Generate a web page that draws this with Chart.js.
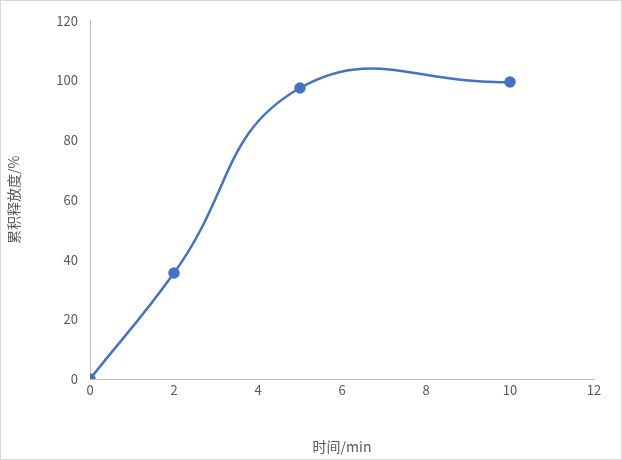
<!DOCTYPE html>
<html>
<head>
<meta charset="utf-8">
<script src="https://cdn.jsdelivr.net/npm/chart.js@4"></script>
<style>
  body { margin: 0; background: #fff; }
  #box { width: 620px; height: 458px; border: 1px solid #d9d9d9; position: relative; }
</style>
</head>
<body>
<div id="box"><canvas id="chart" width="620" height="458"></canvas></div>
<script>
const timeMin = [0, 2, 5, 10];
const releasePct = [0, 35.5, 97.5, 99.5];
const xTitle = "时间/min";
const yTitle = "累积释放度/%";

const points = timeMin.map((t, i) => ({ x: t, y: releasePct[i] }));
const font = { family: "'Noto Sans CJK SC', 'Noto Sans', sans-serif", size: 13 };

new Chart(document.getElementById("chart"), {
  type: "scatter",
  data: {
    datasets: [{
      data: points,
      showLine: true,
      borderColor: "#4472c4",
      backgroundColor: "#4472c4",
      borderWidth: 2.5,
      pointRadius: 4.5,
      tension: 0.45,
    }],
  },
  options: {
    responsive: false,
    animation: false,
    layout: { padding: { left: 0, right: 27, top: 19, bottom: 0 } },
    plugins: { legend: { display: false }, tooltip: { enabled: false } },
    scales: {
      x: {
        min: 0, max: 12,
        ticks: { stepSize: 2, color: "#595959", font: font },
        grid: { display: false, drawTicks: false },
        border: { color: "#bfbfbf" },
        title: { display: true, text: xTitle, color: "#595959", font: { ...font, size: 14 } },
        afterFit: (s) => { s.height = 80; },
      },
      y: {
        min: 0, max: 120,
        ticks: { stepSize: 20, color: "#595959", font: font, padding: 12 },
        grid: { display: false, drawTicks: false },
        border: { color: "#bfbfbf" },
        title: { display: true, text: yTitle, color: "#595959", font: { ...font, size: 14 } },
        afterFit: (s) => { s.width = 89; },
      },
    },
  },
});
</script>
</body>
</html>
